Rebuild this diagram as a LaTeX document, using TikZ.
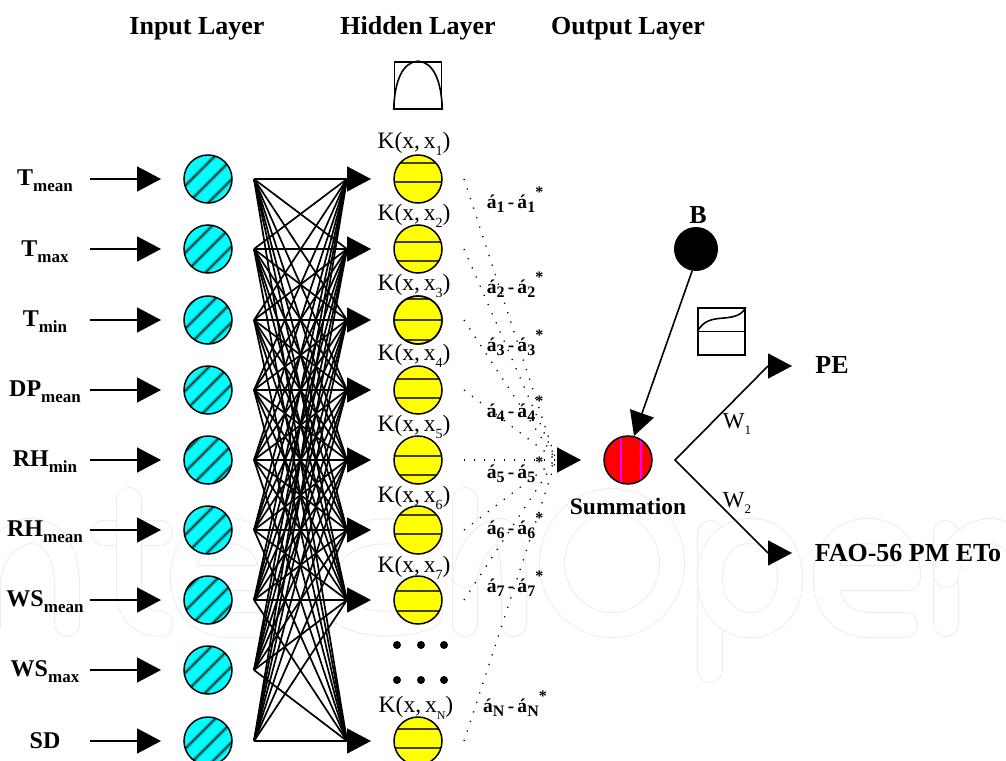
\documentclass[tikz,border=0pt]{standalone}
\usepackage{fontspec}
\setmainfont{Liberation Serif}
\usetikzlibrary{arrows.meta}
\definecolor{cyanfill}{RGB}{0,255,255}
\definecolor{yelfill}{RGB}{255,255,0}
\definecolor{redfill}{RGB}{255,0,0}
\definecolor{magline}{RGB}{255,0,255}
\newcommand\fs[1]{\fontsize{#1}{#1}\selectfont}
\newcommand\lsub[1]{\raisebox{-0.26em}{\fs{17}#1}}
\newcommand\asub[1]{\raisebox{-0.22em}{\fs{16}#1}}
\newcommand\alab[2]{á\asub{#1}\,-\,á\asub{#2}\raisebox{0.55em}{\fs{16}*}}
\newcommand\klab[1]{K(x,\,x\raisebox{-0.3em}{\fs{14}#1})}
\tikzset{
  x=1pt,y=-1pt,
  wm/.style={draw=black!7,double=white,double distance=24pt,line width=1pt,line cap=round,line join=round},
  conn/.style={draw=black,line width=1.6pt},
  tipped/.style={conn,-{Triangle[length=24pt,width=25pt]}},
  net/.style={draw=black,line width=1.7pt},
  dotline/.style={draw=black,line width=1.3pt,dash pattern=on 1.2pt off 8.8pt},
  ball/.style={circle,minimum size=48pt,inner sep=0pt,draw=none},
  ring/.style={draw=black,line width=1.5pt},
  hd/.style={font=\fs{26}\bfseries,inner sep=0pt,anchor=base},
  lbl/.style={font=\fs{24}\bfseries,inner sep=0pt},
  alb/.style={font=\fs{19.5}\bfseries,inner sep=0pt},
  kl/.style={font=\fs{23.5},inner sep=0pt},
  wl/.style={font=\fs{23},inner sep=0pt},
  dotn/.style={circle,fill=black,minimum size=8pt,inner sep=0pt},
  fnbox/.style={draw=black,line width=1.6pt},
  yline/.style={line width=2.8pt,draw=black!75!yelfill},
}
\begin{document}
\begin{tikzpicture}
\useasboundingbox (0,0) rectangle (1006,760);
\fill[white] (0,0) rectangle (1006,760);
% faint background lettering
\draw[wm] (-12,626) -- (-12,585) .. controls (-12,545) and (20,531) .. (30,531) .. controls (55,531) and (67,555) .. (67,585) -- (67,624);
\draw[wm] (104,533) -- (160,533);
\draw[wm] (129,500) -- (129,590) .. controls (129,615) and (145,624) .. (160,624);
\draw[wm] (183,578) .. controls (183,545) and (205,531) .. (228,531) .. controls (255,531) and (272,550) .. (272,578) -- (183,578) .. controls (183,610) and (205,625) .. (232,625) -- (270,625);
\draw[wm] (430,540) .. controls (400,525) and (325,525) .. (325,578) .. controls (325,630) and (400,630) .. (430,615);
\draw[wm] (465,500) -- (465,624);
\draw[wm] (465,575) .. controls (470,545) and (490,531) .. (500,531) .. controls (510,531) and (514,555) .. (514,585) -- (514,624);
\draw[wm] (612,563) ellipse [x radius=60pt,y radius=62pt];
\draw[wm] (710,670) -- (710,533);
\draw[wm] (710,578) .. controls (710,545) and (730,531) .. (750,531) .. controls (775,531) and (790,550) .. (790,578) .. controls (790,605) and (775,625) .. (750,625) .. controls (730,625) and (710,610) .. (710,578);
\draw[wm] (826,578) -- (908,578) .. controls (908,545) and (890,531) .. (868,531) .. controls (842,531) and (826,550) .. (826,578) .. controls (826,610) and (845,625) .. (870,625) -- (905,625);
\draw[wm] (946,624) -- (946,533);
\draw[wm] (946,575) .. controls (950,545) and (975,531) .. (990,531) .. controls (1010,531) and (1030,550) .. (1030,585);

% titles
\node[hd] (tin) at (197,35) {Input Layer};
\node[hd] (thid) at (418,35) {Hidden Layer};
\node[hd] (tout) at (628,35) {Output Layer};

% input labels
\node[lbl] (l1) at (45,181) {T\lsub{mean}};
\node[lbl] (l2) at (45,252) {T\lsub{max}};
\node[lbl] (l3) at (45,322) {T\lsub{min}};
\node[lbl] (l4) at (45,392) {DP\lsub{mean}};
\node[lbl] (l5) at (45,462) {RH\lsub{min}};
\node[lbl] (l6) at (45,532) {RH\lsub{mean}};
\node[lbl] (l7) at (45,602) {WS\lsub{mean}};
\node[lbl] (l8) at (45,672) {WS\lsub{max}};
\node[lbl] (l9) at (45,741) {SD};

% input row
\foreach \n/\y/\sh in {1/179/0,2/249/-3,3/320/2,4/390/-6,5/460/5,6/530/-2,7/600/4,8/670/-4,9/741/1}{
  \coordinate (a\n) at (90,\y);
  \coordinate (b\n) at (161,\y);
  \coordinate (s\n) at (254,\y);
  \draw[tipped] (a\n) -- (b\n);
  \node[ball,fill=cyanfill] (i\n) at (208,\y) {};
  \begin{scope}
    \clip (i\n.center) circle (24pt);
    \foreach \c in {-36,-16,4,24}{
      \draw[line width=4pt,draw=cyanfill!55!black,opacity=.55] (208+\c+\sh+30,\y-30) -- (208+\c+\sh-30,\y+30);
      \draw[line width=1.3pt,draw=black!85] (208+\c+\sh+30,\y-30) -- (208+\c+\sh-30,\y+30);
    }
  \end{scope}
  \draw[ring] (i\n.center) circle (24pt);
}

% hidden targets
\foreach \n/\y in {1/179,2/249,3/320,4/390,5/460,6/530,7/600,8/741}{
  \coordinate (t\n) at (347,\y);
  \coordinate (u\n) at (371,\y);
}
% network
\foreach \i in {1,...,9}{
  \foreach \j in {1,...,8}{
    \draw[net] (s\i) -- (t\j);
  }
}
\foreach \j in {1,...,8}{
  \draw[tipped] (t\j) -- (u\j);
}

% hidden row
\foreach \n/\y/\ka/\kb in {1/179/-16/3,2/249/-7/12,3/320/-21/0,4/390/-11/8,5/460/-4/15,6/530/-15/4,7/600/-9/11,8/741/-12/7}{
  \node[ball,fill=yelfill] (h\n) at (418,\y) {};
  \begin{scope}
    \clip (h\n.center) circle (24pt);
    \draw[yline] (390,\y+\ka) -- (446,\y+\ka);
    \draw[yline] (390,\y+\kb) -- (446,\y+\kb);
  \end{scope}
  \draw[ring] (h\n.center) circle (24pt);
  \coordinate (d\n) at (464,\y);
}
\begin{scope}
  \clip (h3.center) circle (24pt);
  \draw[yline] (390,340) -- (446,340);
\end{scope}
\draw[ring] (h3.center) circle (24pt);

% kernel labels
\node[kl] (k1) at (414,144) {\klab{1}};
\node[kl] (k2) at (414,216) {\klab{2}};
\node[kl] (k3) at (414,286) {\klab{3}};
\node[kl] (k4) at (414,356) {\klab{4}};
\node[kl] (k5) at (414,427) {\klab{5}};
\node[kl] (k6) at (414,498) {\klab{6}};
\node[kl] (k7) at (414,568) {\klab{7}};
\node[kl] (k8) at (416,708) {\klab{\fs{12}N}};

% ellipsis
\foreach \n/\x/\y in {1/397/645,2/421/645,3/444/645,4/397/680,5/421/680,6/444/680}{
  \node[dotn] (e\n) at (\x,\y) {};
}

% function box (bell)
\node[fnbox,minimum width=47pt,minimum height=47pt,inner sep=0pt] (gbox) at (418,85.5) {};
\draw[line width=1.6pt] (gbox.south west) .. controls (394.5,80) and (403,62) .. (gbox.north) .. controls (433,62) and (441.5,80) .. (gbox.south east);

% convergence
\coordinate (conv) at (556,460);
\foreach \n in {1,...,8}{
  \draw[dotline] (d\n) -- (conv);
}
\coordinate (sa) at (557,460);
\coordinate (sb) at (581,460);
\draw[tipped] (sa) -- (sb);

% alpha labels
\node[alb] (al1) at (515,200) {\alab{1}{1}};
\node[alb] (al2) at (515,285) {\alab{2}{2}};
\node[alb] (al3) at (515,343) {\alab{3}{3}};
\node[alb] (al4) at (515,409) {\alab{4}{4}};
\node[alb] (al5) at (515,470) {\alab{5}{5}};
\node[alb] (al6) at (515,526) {\alab{6}{6}};
\node[alb] (al7) at (515,584) {\alab{7}{7}};
\node[alb] (al8) at (515,704) {\alab{N}{N}};

% summation
\node[ball,fill=redfill] (sum) at (628,460) {};
\draw[line width=1.5pt,draw=magline] (621,437) -- (621,483);
\draw[line width=1.5pt,draw=magline] (641,440) -- (641,480);
\draw[ring] (sum.center) circle (24pt);
\node[font=\fs{23.5}\bfseries,inner sep=0pt] (sl) at (628,506) {Summation};

% bias
\node[circle,fill=black,minimum size=44pt,inner sep=0pt] (bias) at (696,249) {};
\node[font=\fs{26}\bfseries,inner sep=0pt] (bl) at (698,215) {B};
\coordinate (bend) at (634,436);
\draw[tipped] (bias.-100) -- (bend);

% sigmoid box
\node[fnbox,minimum width=47pt,minimum height=47pt,inner sep=0pt] (sbox) at (721.5,331.5) {};
\draw[line width=1.2pt] (sbox.west) -- (sbox.east);
\draw[line width=1.6pt] (sbox.west) .. controls (704,320) and (712,319) .. (724,318) .. controls (735,317) and (742,315) .. (sbox.north east);

% outputs
\coordinate (jn) at (675,460);
\coordinate (p0) at (768,366);
\coordinate (p1) at (792,366);
\coordinate (f0) at (768,553);
\coordinate (f1) at (792,553);
\draw[conn] (p0) -- (jn) -- (f0);
\draw[tipped] (p0) -- (p1);
\draw[tipped] (f0) -- (f1);
\node[font=\fs{26}\bfseries,inner sep=0pt] (pe) at (832,365) {PE};
\node[font=\fs{26}\bfseries,inner sep=0pt] (fao) at (908,553) {FAO-56 PM ETo};
\node[wl] (w1) at (737,424) {W\raisebox{-0.3em}{\fs{13}1}};
\node[wl] (w2) at (737,503) {W\raisebox{-0.3em}{\fs{13}2}};
\end{tikzpicture}
\end{document}
